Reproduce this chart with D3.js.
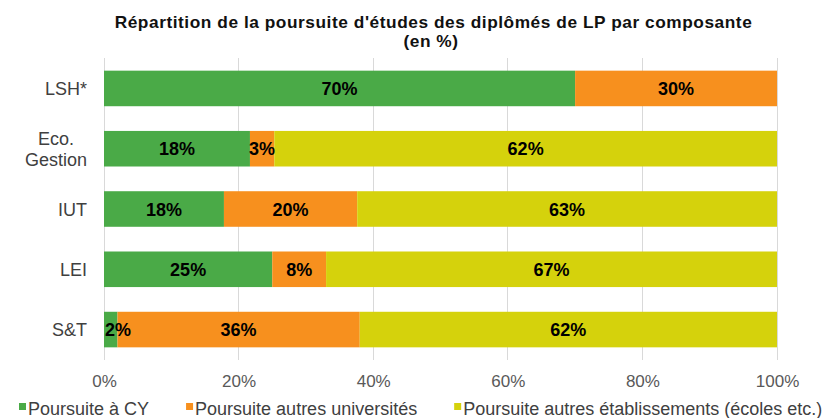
<!DOCTYPE html>
<html><head><meta charset="utf-8">
<script src="https://cdn.jsdelivr.net/npm/d3@7"></script>
<style>body{margin:0;background:#fff}svg{display:block}text{font-family:"Liberation Sans",Arial,sans-serif}</style>
</head><body>
<svg id="c" width="829" height="418"></svg>
<script>
const categories = ["LSH*", "Eco.\nGestion", "IUT", "LEI", "S&T"];
const seriesNames = ["Poursuite à CY", "Poursuite autres universités", "Poursuite autres établissements (écoles etc.)"];
const cyValues = [70, 18, 18, 25, 2];
const autresUnivValues = [30, 3, 20, 8, 36];
const autresEtabValues = [0, 62, 63, 67, 62];
const tickValues = [0, 0.2, 0.4, 0.6, 0.8, 1];
const colors = ["#4aaa47", "#f7901e", "#d5d20c"];
const titleLines = ["Répartition de la poursuite d'études des diplômés de LP par composante", "(en %)"];

const svg = d3.select("#c");
const plotLeft = 104, plotRight = 777, plotTop = 58, plotBottom = 360;
const rows = categories.map((c, i) => ({cat: c, s0: cyValues[i], s1: autresUnivValues[i], s2: autresEtabValues[i]}));
const stack = d3.stack().keys(["s0", "s1", "s2"]).offset(d3.stackOffsetExpand);
const layers = stack(rows);

const x = d3.scaleLinear().domain([0, 1]).range([plotLeft, plotRight]);
const y = d3.scaleBand().domain(categories).range([plotTop, plotBottom]).paddingInner(0.41).paddingOuter(0.21);

// title
svg.append("g").selectAll("text").data(titleLines).join("text")
  .attr("x", (d, i) => i === 0 ? 433.5 : 431).attr("y", (d, i) => 28 + i * 18.5)
  .attr("text-anchor", "middle").attr("font-weight", "bold").attr("font-size", 17.3)
  .attr("letter-spacing", 0.55).attr("fill", "#111")
  .text(d => d);

// gridlines
svg.append("g").selectAll("line").data(tickValues).join("line")
  .attr("x1", d => x(d)).attr("x2", d => x(d)).attr("y1", plotTop).attr("y2", plotBottom)
  .attr("stroke", "#d9d9d9").attr("stroke-width", 1).attr("shape-rendering", "crispEdges");

// bars
const gBars = svg.append("g");
const gLabels = svg.append("g");
layers.forEach((layer, li) => {
  const segs = layer.filter(d => d[1] - d[0] > 0);
  gBars.append("g").selectAll("rect").data(segs).join("rect")
    .attr("x", d => x(d[0])).attr("width", d => x(d[1]) - x(d[0]))
    .attr("y", d => y(d.data.cat)).attr("height", y.bandwidth())
    .attr("fill", colors[li]);
  gLabels.append("g").selectAll("text").data(segs).join("text")
    .attr("y", d => y(d.data.cat) + y.bandwidth() / 2 + 6.5)
    .attr("text-anchor", "middle").attr("font-weight", "bold").attr("font-size", 18).attr("fill", "#000")
    .text(d => d.data[layer.key] + "%")
    .each(function(d) {
      const w = this.getComputedTextLength();
      const cx = (x(d[0]) + x(d[1])) / 2;
      d3.select(this).attr("x", Math.max(cx, plotLeft + 1 + w / 2));
    });
});

// x axis labels
const xAxis = d3.axisBottom(x).tickValues(tickValues).tickFormat(d3.format(".0%")).tickSize(0).tickPadding(0);
const xa = svg.append("g").attr("transform", `translate(0,${plotBottom})`).call(xAxis);
xa.select(".domain").remove();
xa.selectAll("text").attr("font-size", 17).attr("fill", "#595959").attr("dy", null).attr("y", 27)
  .style("font-family", '"Liberation Sans",Arial,sans-serif');

// y axis labels
const yl = svg.append("g");
categories.forEach(c => {
  const lines = c.split("\n");
  const cy = y(c) + y.bandwidth() / 2;
  const t = yl.append("g");
  const texts = lines.map((ln, i) => t.append("text")
    .attr("y", cy + 6.5 + (i - (lines.length - 1) / 2) * 21)
    .attr("font-size", 18).attr("fill", "#404040").text(ln));
  const w = d3.max(texts, tx => tx.node().getComputedTextLength());
  texts.forEach(tx => tx.attr("x", 87 - w / 2).attr("text-anchor", "middle"));
});

// legend
const leg = svg.append("g");
let lx = 19;
seriesNames.forEach((n, i) => {
  leg.append("rect").attr("x", lx).attr("y", 403).attr("width", 7).attr("height", 7).attr("fill", colors[i]);
  const t = leg.append("text").attr("x", lx + 9).attr("y", 415).attr("font-size", 18).attr("fill", "#404040").text(n);
  lx += 9 + t.node().getComputedTextLength() + 37;
});
</script>
</body></html>
